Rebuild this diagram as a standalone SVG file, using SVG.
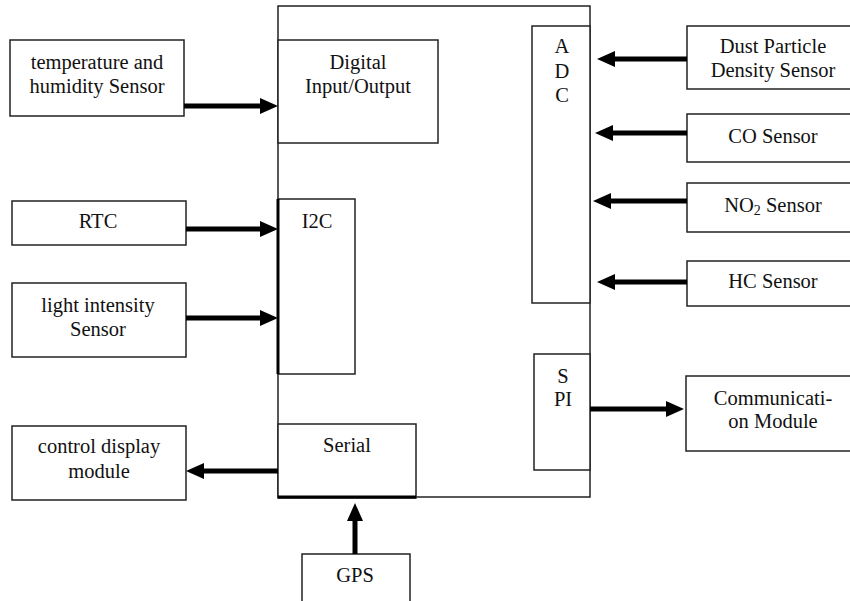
<svg xmlns="http://www.w3.org/2000/svg" width="850" height="601" viewBox="0 0 850 601">
<defs>
<style>
.box{fill:#fff;stroke:#222;stroke-width:1.5}
.t{font-family:"Liberation Serif","Times New Roman",serif;font-size:20.5px;fill:#111;text-anchor:middle}
.arr{stroke:#000;stroke-width:5;fill:none;marker-end:url(#ah)}
</style>
<marker id="ah" markerUnits="userSpaceOnUse" viewBox="0 0 18 16" refX="0" refY="8" markerWidth="18" markerHeight="16" orient="auto">
<path d="M0,0 L18,8 L0,16 z" fill="#000"/>
</marker>
</defs>
<rect width="850" height="601" fill="#fff"/>
<g id="mcu"><rect class="box" x="278" y="6" width="312" height="491"/></g>
<g id="dio"><rect class="box" x="278" y="40" width="160" height="103"/><text class="t" x="358" y="69">Digital</text><text class="t" x="358" y="93">Input/Output</text></g>
<g id="i2c"><rect class="box" x="278" y="199" width="77" height="175"/><line x1="278" y1="199" x2="278" y2="374" stroke="#000" stroke-width="3"/><text class="t" x="317" y="228">I2C</text></g>
<g id="serial"><rect class="box" x="278" y="424" width="138" height="74"/><line x1="278" y1="497" x2="416" y2="497" stroke="#000" stroke-width="3"/><text class="t" x="347" y="452">Serial</text></g>
<g id="adc"><rect class="box" x="532" y="26" width="58" height="277"/><text class="t" x="562" y="53">A</text><text class="t" x="562" y="78">D</text><text class="t" x="562" y="102">C</text></g>
<g id="spi"><rect class="box" x="534" y="354" width="56" height="116"/><text class="t" x="563" y="383">S</text><text class="t" x="563" y="406">PI</text></g>
<g id="temp"><rect class="box" x="10" y="40" width="174" height="76"/><text class="t" x="97" y="69">temperature and</text><text class="t" x="97" y="93">humidity Sensor</text></g>
<g id="rtc"><rect class="box" x="12" y="201" width="174" height="44"/><text class="t" x="98" y="228">RTC</text></g>
<g id="light"><rect class="box" x="12" y="283" width="174" height="74"/><text class="t" x="98" y="312">light  intensity</text><text class="t" x="98" y="336">Sensor</text></g>
<g id="display"><rect class="box" x="12" y="426" width="174" height="74"/><text class="t" x="99" y="453">control display</text><text class="t" x="99" y="478">module</text></g>
<g id="gps"><rect class="box" x="302" y="554" width="108" height="52"/><text class="t" x="355" y="582">GPS</text></g>
<g id="dust"><rect class="box" x="687" y="26" width="170" height="63"/><text class="t" x="773" y="53">Dust Particle</text><text class="t" x="773" y="77">Density Sensor</text></g>
<g id="co"><rect class="box" x="687" y="114" width="170" height="48"/><text class="t" x="773" y="143">CO Sensor</text></g>
<g id="no2"><rect class="box" x="687" y="183" width="170" height="49"/><text class="t" x="773" y="212">NO<tspan font-size="14" dy="3">2</tspan><tspan dy="-3"> Sensor</tspan></text></g>
<g id="hc"><rect class="box" x="687" y="261" width="170" height="45"/><text class="t" x="773" y="288">HC Sensor</text></g>
<g id="comm"><rect class="box" x="686" y="376" width="170" height="75"/><text class="t" x="773" y="405">Communicati-</text><text class="t" x="773" y="428">on Module</text></g>
<g id="connectors">
<path class="arr" d="M184,106 H260"/>
<path class="arr" d="M186,229 H260"/>
<path class="arr" d="M186,318 H260"/>
<path class="arr" d="M278,471 H204"/>
<path class="arr" d="M355,554 V521"/>
<path class="arr" d="M687,59 H615"/>
<path class="arr" d="M687,133 H613"/>
<path class="arr" d="M687,201 H611"/>
<path class="arr" d="M687,282 H615"/>
<path class="arr" d="M590,409 H666"/>
</g>
</svg>
